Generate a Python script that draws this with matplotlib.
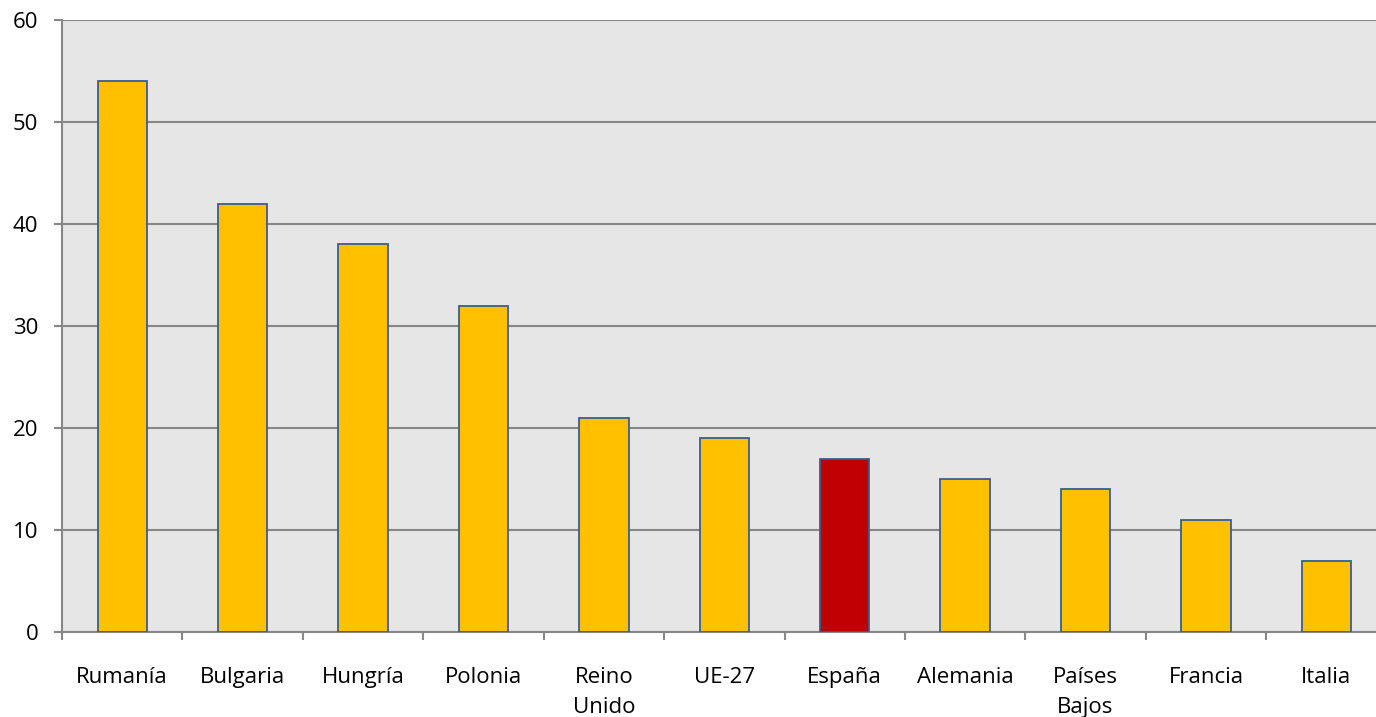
import matplotlib
matplotlib.use('Agg')
import matplotlib.pyplot as plt
import numpy as np

paises = ['Rumanía', 'Bulgaria', 'Hungría', 'Polonia', 'Reino\nUnido', 'UE-27',
          'España', 'Alemania', 'Países\nBajos', 'Francia', 'Italia']
valores = [54, 42, 38, 32, 21, 19, 17, 15, 14, 11, 7]
destacado = 'España'

plt.rcParams['font.family'] = ['Open Sans', 'DejaVu Sans']

fig = plt.figure(figsize=(13.76, 7.17), dpi=100)
# the plot area runs a little past the right edge of the picture
ax = fig.add_axes([62 / 1376, 85 / 717, 1324.6 / 1376, 612 / 717])
ax.set_facecolor('#E6E6E6')

x = np.arange(len(paises))
colores = ['#C00000' if p == destacado else '#FFC000' for p in paises]
ax.bar(x, valores, width=0.41, color=colores, edgecolor='#3A5D8F',
       linewidth=1.3, zorder=3)

ax.set_ylim(0, 60)
ax.set_xlim(-0.5, len(paises) - 0.5)
ax.set_yticks(np.arange(0, 61, 10))
ax.yaxis.grid(True, color='#878787', linewidth=1.5, zorder=0)
ax.set_axisbelow(True)

ax.set_xticks(x)
ax.set_xticklabels(paises, fontsize=16, linespacing=1.55)
ax.set_xticks(np.arange(-0.5, len(paises) + 0.5, 1), minor=True)
ax.tick_params(axis='x', which='major', length=0, pad=25)
ax.tick_params(axis='x', which='minor', length=6, width=1.5, color='#878787')
ax.tick_params(axis='y', length=6, width=1.5, color='#878787', labelsize=16, pad=11)

for s in ['top', 'right']:
    ax.spines[s].set_visible(False)
for s in ['left', 'bottom']:
    ax.spines[s].set_color('#878787')
    ax.spines[s].set_linewidth(1.5)

fig.savefig('out.png', dpi=100)
